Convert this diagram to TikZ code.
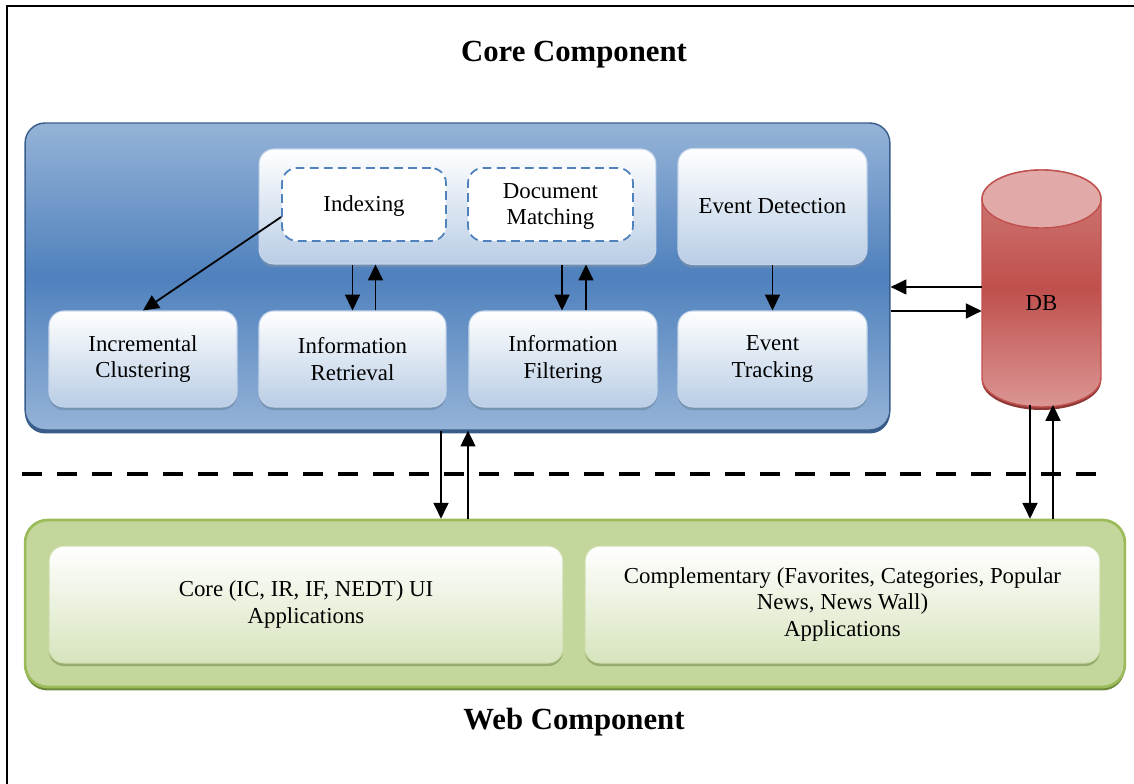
\documentclass[tikz,border=0pt]{standalone}
\usepackage{fontspec}
\setmainfont{Liberation Serif}
\usetikzlibrary{arrows.meta,shadows,positioning}
\definecolor{coreblue}{HTML}{4F81BD}
\definecolor{corelight}{HTML}{95B3D7}
\definecolor{coredark}{HTML}{385D8A}
\definecolor{boxblue}{HTML}{B9CDE5}
\definecolor{boxedge}{HTML}{C5D5EA}
\definecolor{webgreen}{HTML}{C3D69B}
\definecolor{webedge}{HTML}{9BBB59}
\definecolor{webdark}{HTML}{6E8A3C}
\definecolor{appgreen}{HTML}{D7E4BD}
\definecolor{dbred}{HTML}{C0504D}
\definecolor{dbbody}{HTML}{CF7D7A}
\definecolor{dblight}{HTML}{DA9694}
\definecolor{dbtop}{HTML}{E1A9A8}
\definecolor{dbdark}{HTML}{8C3836}

\tikzset{
  title/.style={font=\fontsize{17.5}{21}\selectfont\bfseries},
  boxtext/.style={font=\fontsize{13}{15.3}\selectfont, align=center, inner sep=0pt},
  corebox/.style={rounded corners=0.4cm, draw=coredark, line width=0.8pt,
    top color=corelight, bottom color=corelight, middle color=coreblue,
    drop shadow={shadow xshift=0pt, shadow yshift=-2pt, fill=coredark, opacity=1}},
  procbox/.style={boxtext, rounded corners=0.3cm, draw=boxedge, line width=0.6pt,
    top color=white, bottom color=boxblue,
    drop shadow={shadow xshift=0pt, shadow yshift=-1.8pt, fill=coredark!70, opacity=0.8}},
  subbox/.style={boxtext, rounded corners=0.3cm, draw=coreblue, line width=1pt,
    dash pattern=on 5pt off 3pt, fill=white, text depth=0.5pt},
  webbox/.style={rounded corners=0.45cm, draw=webedge, line width=1.5pt, fill=webgreen,
    drop shadow={shadow xshift=0pt, shadow yshift=-2pt, fill=webdark, opacity=1}},
  appbox/.style={boxtext, rounded corners=0.3cm, draw=webgreen!80!white, line width=0.6pt,
    top color=white, bottom color=appgreen,
    drop shadow={shadow xshift=0pt, shadow yshift=-1.8pt, fill=webdark!80, opacity=0.8}},
  link/.style={-{Triangle[length=9pt,width=8.5pt]}, line width=1pt},
}

\begin{document}
\begin{tikzpicture}[x=0.02cm, y=0.02cm]
  \useasboundingbox (0,0) rectangle (1134,784);
  % outer frame (only top and left are visible)
  \draw[line width=1pt] (7,0) -- (7,778) -- (1134,778);

  \node[title] (coretitle) at (574,729) {Core Component};
  \node[title] (webtitle) at (574,62) {Web Component};

  % core component
  \node[corebox, minimum width=17.3cm, minimum height=6.14cm] (core) at (457.5,507.5) {};
  \node[procbox, minimum width=7.94cm, minimum height=2.3cm] (search) at (457.5,577.5) {};
  \node[subbox, minimum width=3.28cm, minimum height=1.46cm] (idx) at (364,579.5) {Indexing};
  \node[subbox, minimum width=3.3cm, minimum height=1.46cm] (match) at (550.5,579.5) {Document\\Matching};
  \node[procbox, minimum width=3.78cm, minimum height=2.32cm] (detect) at (772.5,577.5) {Event Detection};

  \node[procbox, minimum width=3.76cm, minimum height=1.92cm] (clust) at (143,425) {Incremental\\Clustering};
  \node[procbox, minimum width=3.74cm, minimum height=1.92cm] (retr) at (352.5,425) {Information\\Retrieval};
  \node[procbox, minimum width=3.76cm, minimum height=1.92cm] (filt) at (563,425) {Information\\Filtering};
  \node[procbox, minimum width=3.78cm, minimum height=1.92cm] (track) at (772.5,425) {Event\\Tracking};

  % database
  \fill[dbdark] (1041.5,403) ellipse[x radius=1.19cm, y radius=0.58cm];
  \path[draw=dbred, line width=0.8pt, top color=dbbody, bottom color=dblight, middle color=dbred]
    (982,585) -- (982,406) arc[start angle=180, end angle=360, x radius=1.19cm, y radius=0.58cm]
    -- (1101,585) arc[start angle=0, end angle=180, x radius=1.19cm, y radius=0.58cm] -- cycle;
  \filldraw[fill=dbtop, draw=dbred, line width=0.8pt] (1041.5,585) ellipse[x radius=1.19cm, y radius=0.58cm];
  \node[boxtext, minimum width=2.38cm, minimum height=3cm] (db) at (1041.5,481) {DB};
  \coordinate (dbbot) at (1041.5,379);

  % web component
  \node[webbox, minimum width=22cm, minimum height=3.34cm] (web) at (575,180.5) {};
  \node[appbox, minimum width=10.28cm, minimum height=2.34cm] (coreapp) at (306,179.5)
    {Core (IC, IR, IF, NEDT) UI\\Applications};
  \node[appbox, minimum width=10.3cm, minimum height=2.34cm] (compapp) at (842.5,179.5)
    {Complementary (Favorites, Categories, Popular\\News, News Wall)\\Applications};

  % separator
  \draw[line width=2.6pt, dash pattern=on 11.5pt off 8.5pt] (22,310) -- (1105,310);

  % connectors
  \draw[link] ([yshift=-0.25cm]idx.west) -- (clust.north);
  \draw[link] (retr.north |- search.south) -- (retr.north);
  \draw[link] ([xshift=0.46cm]retr.north) -- ([xshift=0.46cm]retr.north |- search.south);
  \draw[link] ([xshift=-0.02cm]filt.north |- search.south) -- ([xshift=-0.02cm]filt.north);
  \draw[link] ([xshift=0.46cm]filt.north) -- ([xshift=0.46cm]filt.north |- search.south);
  \draw[link] (detect) -- (track);

  \draw[link] ([yshift=0.32cm]db.west) -- ([yshift=0.32cm]db.west -| core.east);
  \draw[link] ([yshift=-0.16cm]db.west -| core.east) -- ([yshift=-0.16cm]db.west);

  \draw[link] ([xshift=-0.33cm]core.south) -- ([xshift=-0.33cm]core.south |- web.north);
  \draw[link] ([xshift=0.21cm]core.south |- web.north) -- ([xshift=0.21cm]core.south);

  \draw[link] ([xshift=-0.23cm]dbbot) -- ([xshift=-0.23cm]dbbot |- web.north);
  \draw[link] ([xshift=0.23cm]dbbot |- web.north) -- ([xshift=0.23cm]dbbot);
\end{tikzpicture}
\end{document}
